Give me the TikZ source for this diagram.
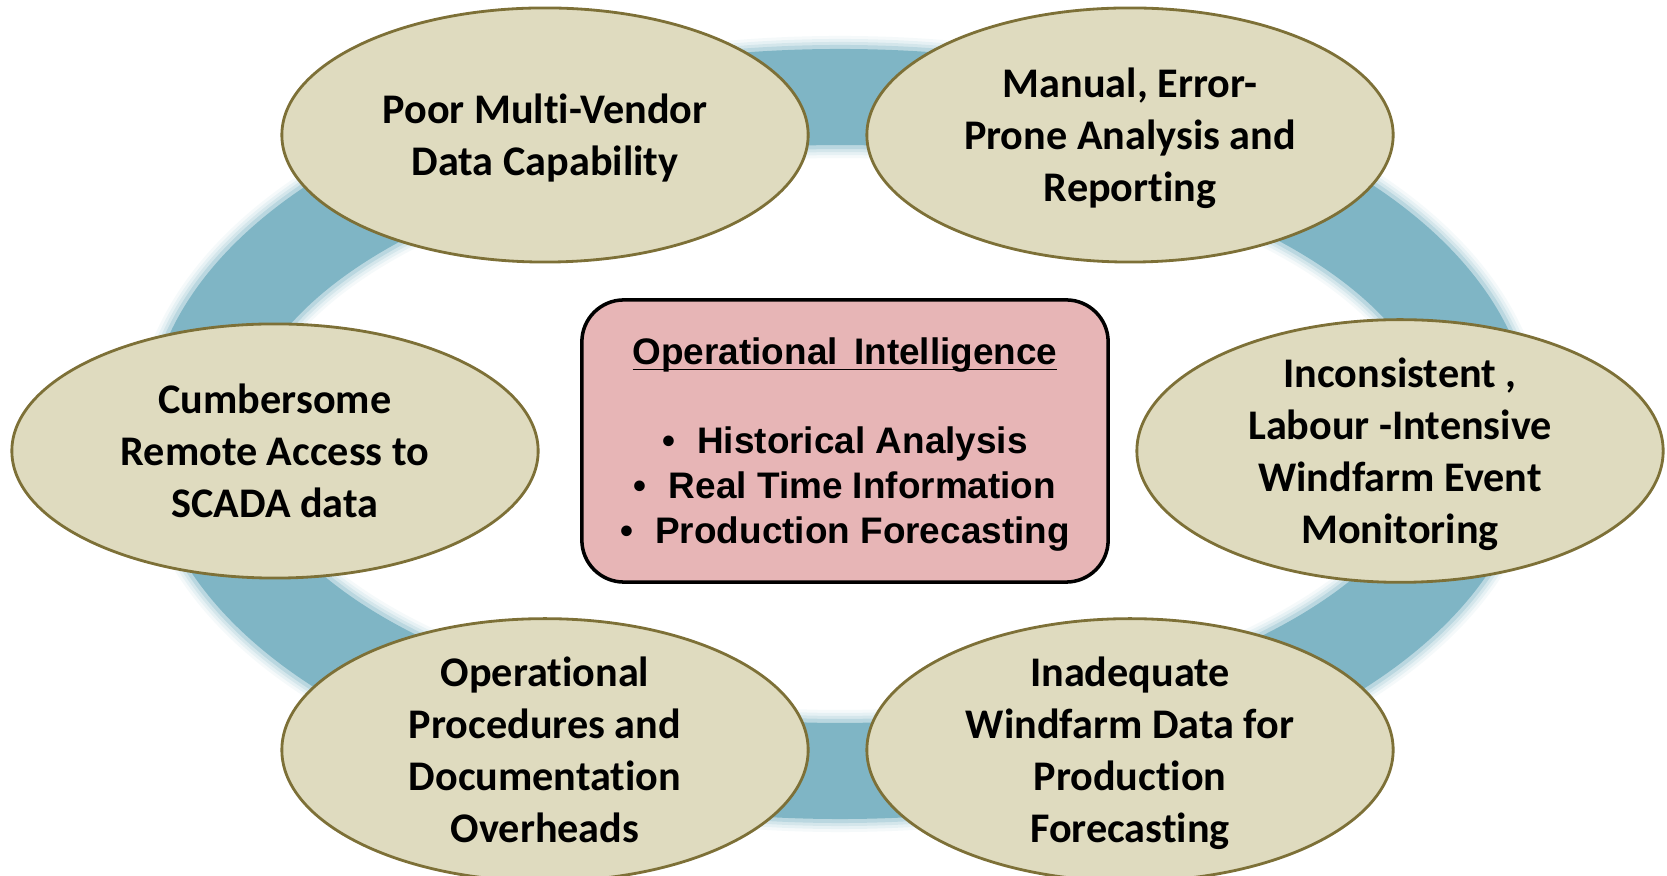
\documentclass[tikz,border=0pt]{standalone}
\usepackage{fontspec}
\setmainfont[Ligatures=NoCommon]{Carlito}
\newfontfamily\arialfont{Liberation Sans}
\usetikzlibrary{shapes.geometric}

\definecolor{ringblue}{RGB}{127,181,197}
\definecolor{issuefill}{RGB}{223,219,191}
\definecolor{issueline}{RGB}{125,112,55}
\definecolor{hubfill}{RGB}{231,181,182}

\tikzset{
  ring/.style={draw=ringblue},
  issue/.style={ellipse, draw=issueline, fill=issuefill, line width=0.8pt,
    minimum width=5.26cm, minimum height=2.54cm, inner sep=0pt, align=center,
    text depth=0pt, font=\fontsize{12}{14.8}\selectfont\bfseries},
  hub/.style={rectangle, rounded corners=0.42cm, draw=black, fill=hubfill, line width=1pt,
    minimum width=5.26cm, minimum height=2.82cm, inner sep=0pt, align=center,
    text depth=0pt, font=\arialfont\fontsize{10.5}{12.8}\selectfont\bfseries},
}

\begin{document}
\begin{tikzpicture}[x=0.01cm, y=0.01cm]
\useasboundingbox (0,0) rectangle (1667,876);

% blurred ring behind the issues
\coordinate (ringc) at (840,442);
\foreach \w/\o in {1.22/0.08, 1.16/0.12, 1.10/0.18, 1.04/0.3, 0.96/1}
  \draw[ring, line width=\w cm, opacity=\o] (ringc) ellipse (645 and 337);

% issues
\node[issue] (vendor) at (545,741) {Poor Multi-Vendor\\Data Capability};
\node[issue] (manual) at (1130,741) {Manual, Error-\\Prone Analysis and\\Reporting};
\node[issue] (remote) at (275,425) {Cumbersome\\Remote Access to\\SCADA data};
\node[issue] (events) at (1400,425) {Inconsistent ,\\Labour -Intensive\\Windfarm Event\\Monitoring};
\node[issue] (procs) at (545,126) {Operational\\Procedures and\\Documentation\\Overheads};
\node[issue] (fcast) at (1130,126) {Inadequate\\Windfarm Data for\\Production\\Forecasting};

% centre
\node[hub] (opint) at (845,435)
  {\underline{\raisebox{0pt}[\height][0pt]{Operational\ \,Intelligence}}\\[12.5pt]
  •\hspace{0.6em}Historical Analysis\\
  •\hspace{0.6em}Real Time Information\\
  •\hspace{0.6em}Production Forecasting};

\end{tikzpicture}
\end{document}
